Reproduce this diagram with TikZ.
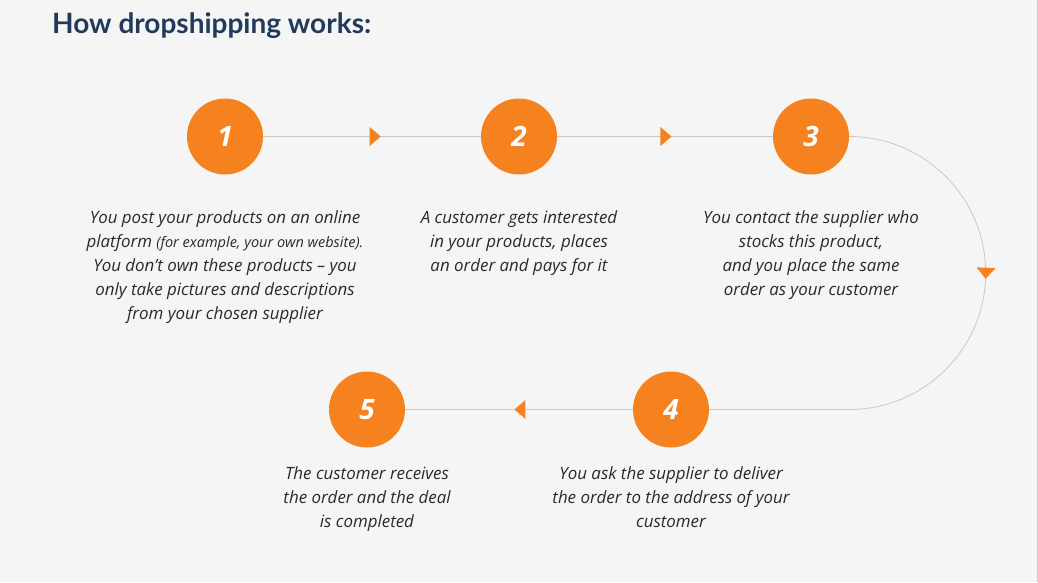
\documentclass[tikz,border=0pt]{standalone}
\usepackage{fontspec}
\setmainfont{Open Sans}
\newfontfamily\titlefont{Lato}
\usetikzlibrary{decorations.markings,backgrounds}
\definecolor{bg}{HTML}{F5F5F5}
\definecolor{orng}{HTML}{F5821F}
\definecolor{lgray}{HTML}{C8C8C8}
\definecolor{navy}{HTML}{213A5C}
\definecolor{txt}{HTML}{2A2A2A}
\begin{document}
\begin{tikzpicture}[x=1pt,y=-1pt,
  stepcircle/.style={circle,fill=orng,minimum size=76pt,inner sep=0pt,text=white,
    font=\fontsize{28}{28}\selectfont\bfseries\itshape},
  desc/.style={align=center,anchor=north,inner sep=0pt,text=txt,
    font=\fontsize{16.9}{24}\selectfont\itshape},
  conn/.style={draw=lgray,line width=0.8pt},
  tri/.style={postaction={decorate},decoration={markings,mark=at position #1 with
    {\fill[orng] (0pt,0pt) -- (-11pt,9.5pt) -- (-11pt,-9.5pt) -- cycle;}}}
]
\useasboundingbox (0,0) rectangle (1038,582);

\node[anchor=base west,inner sep=0pt,text=navy,font=\titlefont\fontsize{28}{28}\selectfont\bfseries]
  (title) at (52,33) {How dropshipping works:};

\node[stepcircle] (c1) at (225,136.5) {1};
\node[stepcircle] (c2) at (519,136.5) {2};
\node[stepcircle] (c3) at (811,136.5) {3};
\node[stepcircle] (c4) at (671,409.5) {4};
\node[stepcircle] (c5) at (367,409.5) {5};

\begin{scope}[on background layer]
\fill[bg] (0,0) rectangle (1038,582);
\draw[lgray,line width=1pt] (1037.5,0) -- (1037.5,582);
\draw[conn,tri=0.54] (c1) -- (c2);
\draw[conn,tri=0.53] (c2) -- (c3);
\draw[conn,tri=0.387] (c3.east) arc (-90:90:136.5) -- (c4.east);
\draw[conn,tri=0.52] (c4) -- (c5);
\end{scope}

\node[desc] (t1) at (225,210) {You post your products on an online\\
  platform {\fontsize{14.5}{24}\selectfont(for example, your own website).}\\
  You don't own these products -- you\\
  only take pictures and descriptions\\
  from your chosen supplier};
\node[desc] (t2) at (519,210) {A customer gets interested\\
  in your products, places\\
  an order and pays for it};
\node[desc] (t3) at (811,210) {You contact the supplier who\\
  stocks this product,\\
  and you place the same\\
  order as your customer};
\node[desc] (t4) at (671,466) {You ask the supplier to deliver\\
  the order to the address of your\\
  customer};
\node[desc] (t5) at (367,466) {The customer receives\\
  the order and the deal\\
  is completed};
\end{tikzpicture}
\end{document}
